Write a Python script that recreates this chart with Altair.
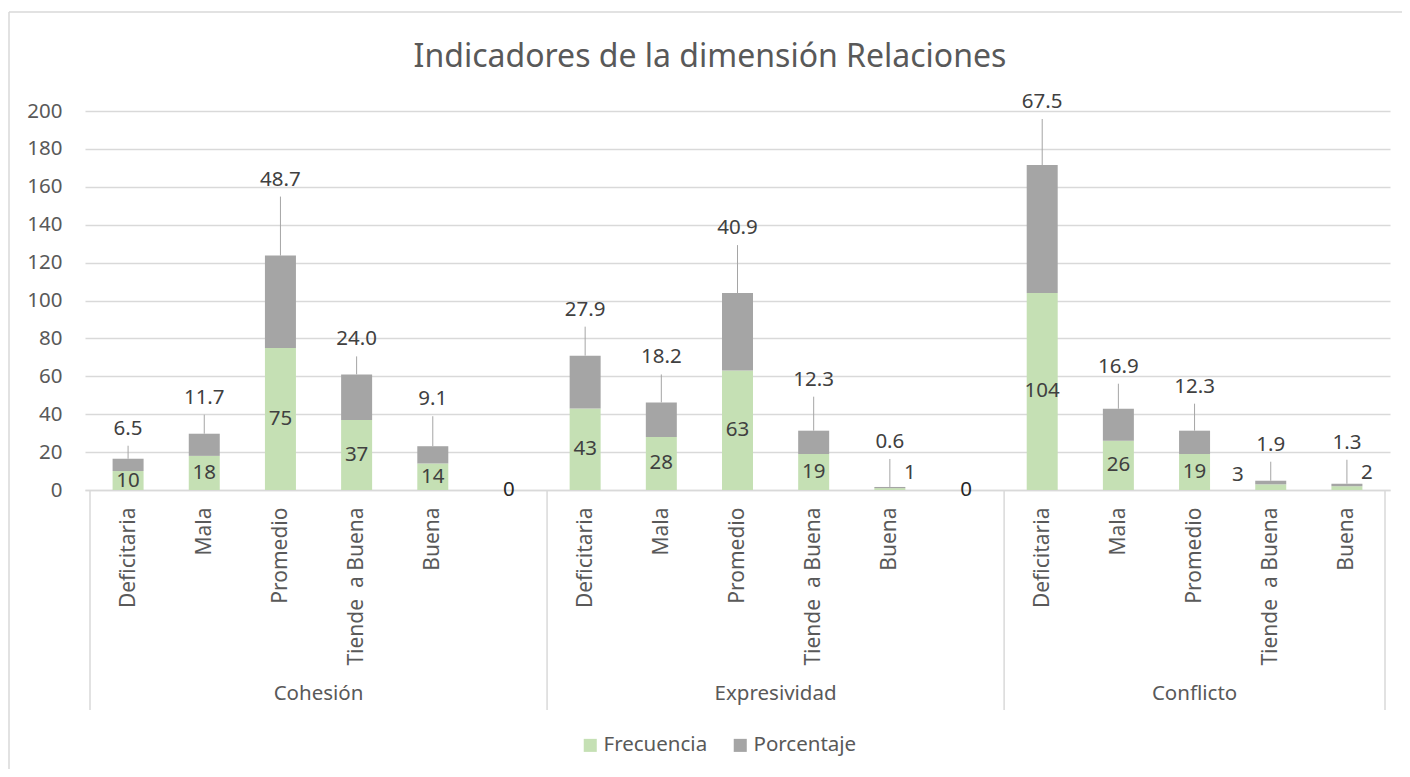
import altair as alt
import pandas as pd

# ---------------- data ----------------
title_text = "Indicadores de la dimensión Relaciones"
groups = ["Cohesión", "Expresividad", "Conflicto"]
subcats = ["Deficitaria", "Mala", "Promedio", "Tiende  a Buena", "Buena"]

cohesion_frec = [10, 18, 75, 37, 14]
cohesion_pct = [6.5, 11.7, 48.7, 24.0, 9.1]
expresividad_frec = [43, 28, 63, 19, 1]
expresividad_pct = [27.9, 18.2, 40.9, 12.3, 0.6]
conflicto_frec = [104, 26, 19, 3, 2]
conflicto_pct = [67.5, 16.9, 12.3, 1.9, 1.3]

# blank separator category after each of the first two groups (value 0)
blank_after = [True, True, False]

# annotation layout (label lift above the bar top, in px; placement of small labels)
cohesion_pct_lift = [30, 36, 76, 35, 47]
expresividad_pct_lift = [46, 45, 65, 51, 45]
conflicto_pct_lift = [63, 42, 44, 36, 41]
cohesion_frec_place = ["in", "in", "in", "in", "in"]
expresividad_frec_place = ["in", "in", "in", "in", "right"]
conflicto_frec_place = ["in", "in", "in", "left", "right"]

series = ["Frecuencia", "Porcentaje"]
colors = ["#C5E0B4", "#A5A5A5"]

frec_all = [cohesion_frec, expresividad_frec, conflicto_frec]
pct_all = [cohesion_pct, expresividad_pct, conflicto_pct]
lift_all = [cohesion_pct_lift, expresividad_pct_lift, conflicto_pct_lift]
place_all = [cohesion_frec_place, expresividad_frec_place, conflicto_frec_place]

PLOT_W, PLOT_H = 1305, 379
YMAX = 200
PX_PER_UNIT = PLOT_H / YMAX

wide_rows, long_rows, blank_rows, group_rows, bounds = [], [], [], [], [0]
slot_labels = []
slot = 0
for gi, g in enumerate(groups):
    start = slot
    for si, s in enumerate(subcats):
        c = slot + 0.5
        f, p = frec_all[gi][si], pct_all[gi][si]
        wide_rows.append(dict(center=c, group=g, sub=s, frec=f, pct=p,
                              total=f + p, lift=lift_all[gi][si],
                              place=place_all[gi][si]))
        long_rows.append(dict(center=c, series="Frecuencia", value=f, ord=0))
        long_rows.append(dict(center=c, series="Porcentaje", value=p, ord=1))
        slot_labels.append(s)
        slot += 1
    if blank_after[gi]:
        blank_rows.append(dict(center=slot + 0.5, zero=0))
        slot_labels.append("")
        slot += 1
    group_rows.append(dict(group=g, mid=(start + slot) / 2))
    bounds.append(slot)

N = slot
wide = pd.DataFrame(wide_rows)
wide["pct_y"] = wide["total"] + wide["lift"] / PX_PER_UNIT
wide["line_top"] = wide["total"] + (wide["lift"] - 17) / PX_PER_UNIT
wide["pct_txt"] = wide["pct"].map(lambda v: f"{v:.1f}")
long = pd.DataFrame(long_rows)
blank = pd.DataFrame(blank_rows)
grp = pd.DataFrame(group_rows)
bnd = pd.DataFrame({"b": bounds})

# keep the double space visible in SVG (whitespace would collapse otherwise)
label_js = "[" + ",".join("'" + s.replace("  ", " \u00a0") + "'" for s in slot_labels) + "]"
tick_vals = [r["center"] for r in wide_rows]

FONT = "Noto Sans"
xscale = alt.Scale(domain=[0, N], nice=False, zero=False)
yscale = alt.Scale(domain=[0, YMAX], nice=False)

xaxis = alt.Axis(values=tick_vals, labelExpr=label_js + "[floor(datum.value)]",
                 labelAngle=270, labelAlign="right", labelBaseline="middle",
                 labelPadding=17, ticks=False, grid=False, labelFontSize=21,
                 labelColor="#595959", domainColor="#D9D9D9", domainWidth=1.5,
                 labelOverlap=False, labelFlush=False, title=None)
yaxis = alt.Axis(values=list(range(0, YMAX + 1, 20)), grid=True, gridColor="#D9D9D9",
                 gridWidth=1.5, domain=False, ticks=False, labelPadding=23,
                 labelFontSize=20.5, labelColor="#595959", title=None)


def X(field):
    return alt.X(field, scale=xscale, axis=xaxis)


def Y(field, **kw):
    return alt.Y(field, scale=yscale, axis=yaxis, **kw)


bars = alt.Chart(long).mark_bar(width=31).encode(
    x=X("center:Q"),
    y=Y("value:Q", stack="zero"),
    color=alt.Color("series:N", scale=alt.Scale(domain=series, range=colors),
                    legend=alt.Legend(title=None, orient="none", legendX=495, legendY=624,
                                      direction="horizontal", symbolType="square",
                                      symbolSize=170, symbolStrokeWidth=0, labelFontSize=20.5,
                                      labelColor="#595959", labelOffset=3, columnPadding=22)),
    order=alt.Order("ord:Q"),
)

txt = dict(font=FONT, fontSize=20.5, color="#404040")

wbase = alt.Chart(wide)
frec_in = wbase.transform_filter("datum.place == 'in'").transform_calculate(
    mid="datum.frec / 2").mark_text(baseline="middle", **txt).encode(
    x=X("center:Q"), y=Y("mid:Q"), text="frec:Q")
frec_right = wbase.transform_filter("datum.place == 'right'").transform_calculate(
    z="0").mark_text(baseline="middle", dx=20, dy=-17, **txt).encode(
    x=X("center:Q"), y=Y("z:Q"), text="frec:Q")
frec_left = wbase.transform_filter("datum.place == 'left'").transform_calculate(
    z="0").mark_text(baseline="middle", dx=-33, dy=-15, **txt).encode(
    x=X("center:Q"), y=Y("z:Q"), text="frec:Q")
pct_lbl = wbase.mark_text(baseline="middle", **txt).encode(
    x=X("center:Q"), y=Y("pct_y:Q"), text="pct_txt:N")
leader = wbase.mark_rule(color="#A5A5A5", strokeWidth=1).encode(
    x=X("center:Q"), y=Y("total:Q"), y2="line_top:Q")

zeros = alt.Chart(blank).mark_text(baseline="middle", font=FONT, fontSize=20.5,
                                   color="#262626").encode(
    x=X("center:Q"), y=Y("zero:Q"), text="zero:Q")

grp_lbl = alt.Chart(grp).mark_text(baseline="middle", font=FONT, fontSize=20.5,
                                   color="#595959").encode(
    x=X("mid:Q"), y=alt.value(583), text="group:N")

seps = alt.Chart(bnd).mark_rule(color="#D9D9D9", strokeWidth=1.5).encode(
    x=X("b:Q"), y=alt.value(PLOT_H), y2=alt.value(599))

one = pd.DataFrame({"t": [title_text]})
title_mark = alt.Chart(one).mark_text(font=FONT, fontSize=32, color="#595959",
                                      baseline="middle", align="center").encode(
    x=alt.value(625), y=alt.value(-54), text="t:N")

border = alt.Chart(one).mark_rule(color="#D9D9D9", strokeWidth=1.5)
border_left = border.encode(x=alt.value(-76), y=alt.value(-99), y2=alt.value(700))
border_top = border.encode(x=alt.value(-76), x2=alt.value(1400), y=alt.value(-99))

chart = alt.layer(
    bars, seps, leader, frec_in, frec_right, frec_left,
    pct_lbl, zeros, grp_lbl, title_mark, border_left, border_top
).properties(
    width=PLOT_W, height=PLOT_H,
    padding={"left": 77, "top": 103, "right": 12, "bottom": 279},
    autosize=alt.AutoSizeParams(type="none"),
).configure(font=FONT).configure_view(stroke=None)

chart.save("out.html", embed_options={"renderer": "svg", "actions": False})
